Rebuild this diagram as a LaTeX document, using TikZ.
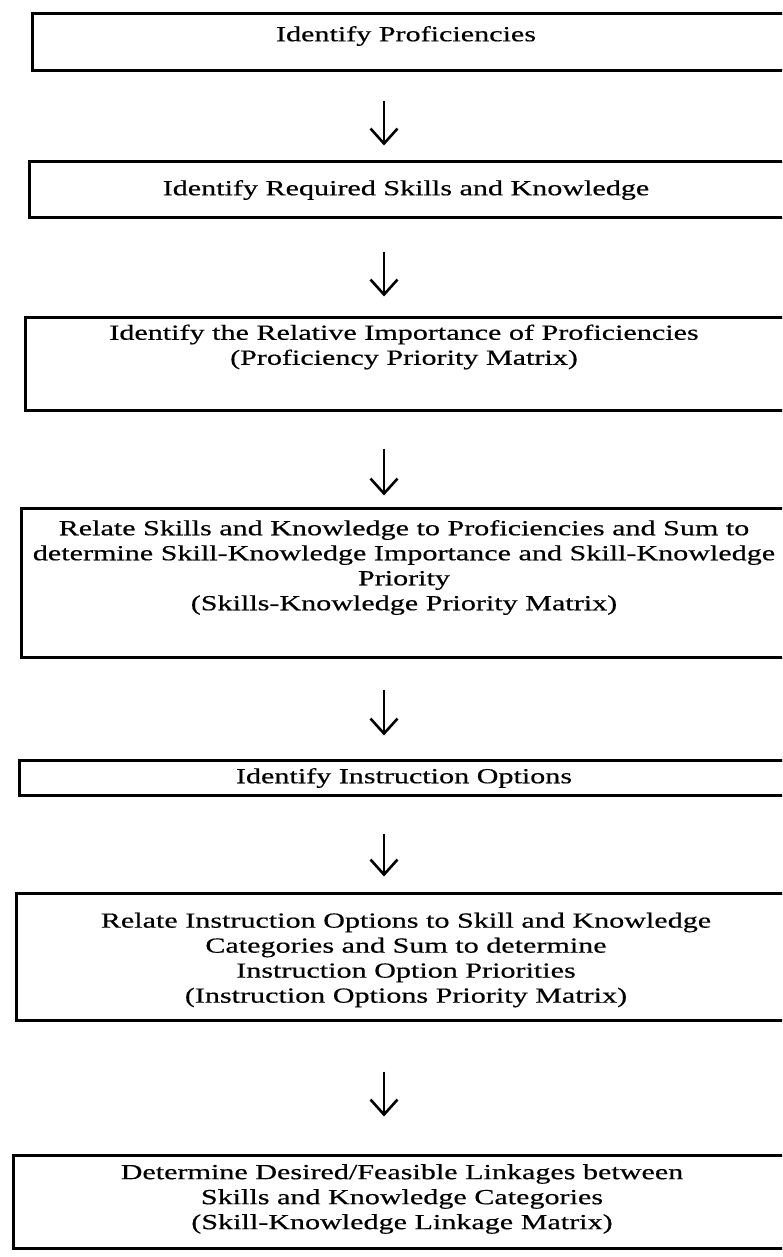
\documentclass[tikz,border=0pt]{standalone}
\usepackage{fontspec}
\setmainfont{Liberation Serif}[FakeStretch=1.4,FakeBold=0.5]
\usetikzlibrary{arrows.meta}

\tikzset{
  stepbox/.style={draw, line width=3pt, anchor=west, minimum width=800pt, inner sep=0pt},
  steptext/.style={align=center, font=\fontsize{21.5}{25}\selectfont, inner sep=0pt},
  flowarrow/.style={-{Straight Barb[length=15pt,width=27pt]}, line width=2.6pt},
}

\begin{document}
\begin{tikzpicture}[x=1pt,y=-1pt]
      \useasboundingbox (0,0) rectangle (782,1257);
      \clip (0,0) rectangle (782,1257);
      \coordinate (ax) at (384,0);
      % boxes
      \node[stepbox, minimum height=57pt] (p1) at (31,42.5) {};
      \node[stepbox, minimum height=56pt] (p2) at (28,190) {};
      \node[stepbox, minimum height=93pt] (p3) at (24,363.5) {};
      \node[stepbox, minimum height=149pt] (p4) at (20,582.5) {};
      \node[stepbox, minimum height=35pt] (p5) at (18,777.5) {};
      \node[stepbox, minimum height=127pt] (p6) at (15,956.5) {};
      \node[stepbox, minimum height=93pt] (p7) at (12,1201.5) {};
      % texts
      \node[steptext] (p1t) at (406,36) {Identify Proficiencies};
      \node[steptext] (p2t) at (406,190) {Identify Required Skills and Knowledge};
      \node[steptext] (p3t) at (404,347) {Identify the Relative Importance of Proficiencies\\(Proficiency Priority Matrix)};
      \node[steptext] (p4t) at (404,567.5) {Relate Skills and Knowledge to Proficiencies and Sum to\\determine Skill-Knowledge Importance and Skill-Knowledge\\Priority\\(Skills-Knowledge Priority Matrix)};
      \node[steptext] (p5t) at (404,778) {Identify Instruction Options};
      \node[steptext] (p6t) at (406,960) {Relate Instruction Options to Skill and Knowledge\\Categories and Sum to determine\\Instruction Option Priorities\\(Instruction Options Priority Matrix)};
      \node[steptext] (p7t) at (402,1199) {Determine Desired/Feasible Linkages between\\Skills and Knowledge Categories\\(Skill-Knowledge Linkage Matrix)};
      % arrows
      \foreach \a/\b/\s/\e in {p1/p2/29/15, p2/p3/32/19, p3/p4/37/11, p4/p5/31/23, p5/p6/37/15, p6/p7/50/37}
          \draw[flowarrow, shorten <=\s pt, shorten >=\e pt] (\a.south -| ax) -- (\b.north -| ax);
\end{tikzpicture}
\end{document}
